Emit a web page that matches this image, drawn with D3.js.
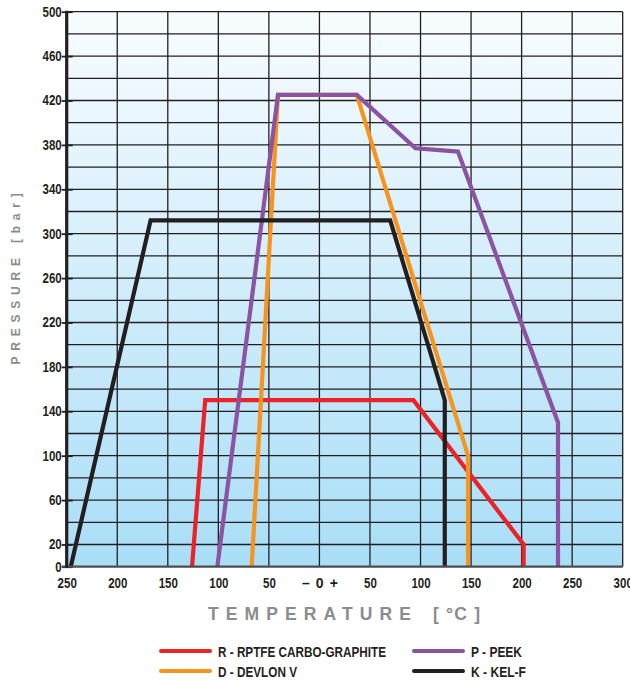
<!DOCTYPE html>
<html>
<head>
<meta charset="utf-8">
<script src="https://cdn.jsdelivr.net/npm/d3@7"></script>
<style>
  html, body { margin: 0; padding: 0; background: #ffffff; }
  svg { display: block; }
  .cond { font-family: "Liberation Sans", Arial, sans-serif; font-weight: bold; }
</style>
</head>
<body>
<svg id="chart" width="630" height="681"></svg>
<script>
// ---- data ----
const xTickValues = [-250, -200, -150, -100, -50, 0, 50, 100, 150, 200, 250, 300];
const yTickValues = [0, 20, 60, 100, 140, 180, 220, 260, 300, 340, 380, 420, 460, 500];
const yGridValues = [20, 40, 60, 80, 100, 120, 140, 160, 180, 200, 220, 240, 260, 280, 300, 320, 340, 360, 380, 400, 420, 440, 460, 480, 500];
const xGridValues = [-200, -150, -100, -50, 0, 50, 100, 150, 200, 250, 300];

const seriesNames = ["R - RPTFE CARBO-GRAPHITE", "D - DEVLON V", "P - PEEK", "K - KEL-F"];
const seriesColors = ["#ec2227", "#f7941d", "#8b53a2", "#231f20"];

const redX    = [-126, -113, 93, 202, 202];
const redY    = [0, 150, 150, 20, 0];
const orangeX = [-67, -41, 37, 147, 147];
const orangeY = [0, 425, 425, 100, 0];
const purpleX = [-101, -41, 37, 95, 137, 236, 236];
const purpleY = [0, 425, 425, 377, 374, 130, 0];
const blackX  = [-246, -167, 70, 124, 124];
const blackY  = [0, 312, 312, 150, 0];

const seriesX = [redX, orangeX, purpleX, blackX];
const seriesY = [redY, orangeY, purpleY, blackY];

// ---- layout ----
const svg = d3.select("#chart");
const x = d3.scaleLinear().domain([-250, 300]).range([66.7, 622.7]);
const y = d3.scaleLinear().domain([0, 500]).range([566.7, 11.7]);

const defs = svg.append("defs");
const grad = defs.append("linearGradient").attr("id", "bg")
  .attr("x1", 0).attr("y1", 0).attr("x2", 0).attr("y2", 1);
grad.append("stop").attr("offset", "0%").attr("stop-color", "#f8fcff");
grad.append("stop").attr("offset", "100%").attr("stop-color", "#a9def7");

svg.append("rect")
  .attr("x", x(-250)).attr("y", y(500))
  .attr("width", x(300) - x(-250)).attr("height", y(0) - y(500))
  .attr("fill", "url(#bg)");

// grid
const grid = svg.append("g").attr("stroke", "#231f20").attr("stroke-width", 1.3);
grid.selectAll("line.h").data(yGridValues).join("line")
  .attr("x1", x(-250)).attr("x2", x(300))
  .attr("y1", d => y(d)).attr("y2", d => y(d));
grid.selectAll("line.v").data(xGridValues).join("line")
  .attr("y1", y(0)).attr("y2", y(500))
  .attr("x1", d => x(d)).attr("x2", d => x(d));

// series
const line = d3.line().x(d => x(d[0])).y(d => y(d[1]));
seriesX.forEach((xs, i) => {
  const pts = xs.map((v, j) => [v, seriesY[i][j]]);
  svg.append("path").datum(pts)
    .attr("d", line)
    .attr("fill", "none")
    .attr("stroke", seriesColors[i])
    .attr("stroke-width", 4.2)
    .attr("stroke-linejoin", "miter");
});

// axes
const yAxis = d3.axisLeft(y).tickValues(yTickValues).tickSize(0).tickPadding(5);
const gy = svg.append("g").attr("transform", `translate(${x(-250)},0)`).call(yAxis);
gy.select(".domain").remove();
gy.selectAll("text").attr("class", "cond").attr("font-size", 14).attr("fill", "#231f20")
  .attr("textLength", d => String(d).length * 6.4).attr("lengthAdjust", "spacingAndGlyphs");
gy.selectAll(".tick").append("line")
  .attr("x1", -5).attr("x2", 6).attr("stroke", "#231f20").attr("stroke-width", 1.8);

const xAxis = d3.axisBottom(x).tickValues(xTickValues).tickSize(0).tickPadding(11)
  .tickFormat(d => d === 0 ? "\u2013 0 +" : String(Math.abs(d)));
const gx = svg.append("g").attr("transform", `translate(0,${y(0)})`).call(xAxis);
gx.select(".domain").remove();
gx.selectAll("text").attr("class", "cond").attr("font-size", 14).attr("fill", "#231f20")
  .attr("textLength", d => d === 0 ? 36 : String(Math.abs(d)).length * 6.4)
  .attr("lengthAdjust", d => d === 0 ? "spacing" : "spacingAndGlyphs");

// axis lines
svg.append("line").attr("x1", 62).attr("x2", x(300)).attr("y1", y(0)).attr("y2", y(0))
  .attr("stroke", "#4d4d4f").attr("stroke-width", 2.2);
svg.append("line").attr("x1", x(-250)).attr("x2", x(-250)).attr("y1", y(500) - 1).attr("y2", y(0) + 1)
  .attr("stroke", "#231f20").attr("stroke-width", 3.2);

// axis titles
svg.append("text").attr("class", "cond")
  .attr("transform", `translate(20,276) rotate(-90)`)
  .attr("text-anchor", "middle")
  .attr("font-size", 12).attr("fill", "#8a8c8e")
  .attr("letter-spacing", 5.8)
  .text("PRESSURE  [bar]");

svg.append("text").attr("class", "cond")
  .attr("x", 208).attr("y", 619.5)
  .attr("font-size", 17.5).attr("fill", "#8a8c8e")
  .attr("textLength", 203).attr("lengthAdjust", "spacing")
  .text("TEMPERATURE");
svg.append("text").attr("class", "cond")
  .attr("x", 433).attr("y", 619.5)
  .attr("font-size", 17.5).attr("fill", "#8a8c8e")
  .attr("textLength", 47).attr("lengthAdjust", "spacing")
  .text("[ \u00B0C ]");

// legend
const legendPos = [[161, 651], [161, 671], [414, 651], [414, 671]];
const legendWidths = [168, 79, 51, 55];
seriesNames.forEach((name, i) => {
  const [lx, ly] = legendPos[i];
  svg.append("line").attr("x1", lx).attr("x2", lx + 49).attr("y1", ly).attr("y2", ly)
    .attr("stroke", seriesColors[i]).attr("stroke-width", 4).attr("stroke-linecap", "round");
  svg.append("text").attr("class", "cond")
    .attr("x", lx + 57).attr("y", ly + 5.5)
    .attr("font-size", 15.5).attr("fill", "#231f20")
    .attr("textLength", legendWidths[i]).attr("lengthAdjust", "spacingAndGlyphs")
    .text(name);
});
</script>
</body>
</html>
